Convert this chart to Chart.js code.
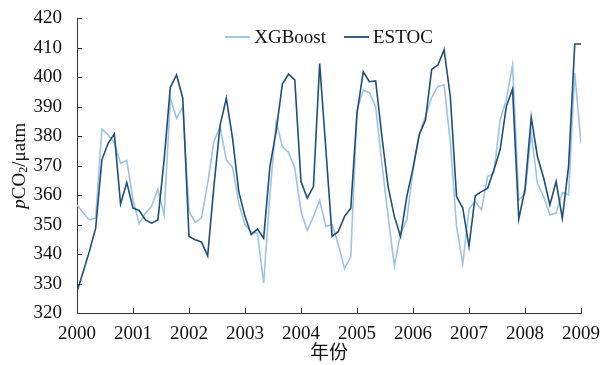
<!DOCTYPE html>
<html>
<head>
<meta charset="utf-8">
<script src="https://cdn.jsdelivr.net/npm/chart.js@4.4.0/dist/chart.umd.min.js"></script>
<style>
    html, body { margin: 0; padding: 0; background: #fff; }
    #wrap { width: 613px; height: 365px; }
</style>
</head>
<body>
<div id="wrap"><canvas id="co2Chart"></canvas></div>
<script>
"use strict";

// Årsetiketter på x-axeln
const yearTicks = [2000, 2001, 2002, 2003, 2004, 2005, 2006, 2007, 2008, 2009];
// Antal mätpunkter per år
const samplesPerYear = 9;

// pCO2 (μatm), XGBoost-modell
const xgboost = [
    356.7, 354.0, 351.6, 352.2, 382.4, 380.5, 377.8, 370.8, 371.8, 358.4,
    350.3, 353.9, 356.2, 362.0, 353.3, 392.9, 386.1, 390.0, 354.5, 350.8,
    352.2, 364.0, 378.2, 383.3, 372.0, 369.5, 357.3, 350.0, 347.5, 347.1,
    330.2, 360.0, 385.0, 376.5, 374.5, 369.2, 354.5, 348.0, 352.8, 358.2,
    349.4, 350.0, 343.2, 335.0, 339.2, 388.9, 395.7, 394.8, 390.0, 370.8,
    352.8, 336.0, 347.1, 351.6, 368.6, 380.5, 386.7, 393.2, 397.0, 397.4,
    378.0, 349.4, 336.7, 355.3, 357.9, 355.0, 366.3, 367.5, 385.5, 392.3,
    404.2, 358.4, 360.4, 381.0, 364.0, 359.5, 353.3, 353.9, 360.9, 360.1,
    401.4, 377.6
];

// pCO2 (μatm), ESTOC-mätningar
const estoc = [
    327.3, 334.0, 341.0, 348.8, 372.0, 377.6, 380.8, 357.0, 364.3, 355.6,
    354.8, 351.6, 350.5, 351.6, 372.0, 396.6, 400.8, 392.9, 346.0, 344.9,
    344.1, 339.4, 362.9, 383.8, 392.9, 379.3, 361.2, 352.8, 346.6, 348.5,
    345.4, 369.7, 381.6, 397.7, 401.1, 399.1, 364.6, 359.0, 362.9, 404.7,
    375.4, 346.0, 347.7, 352.8, 355.6, 387.8, 401.9, 398.5, 398.8, 379.9,
    362.9, 352.8, 346.0, 359.5, 369.2, 380.5, 385.5, 402.7, 404.2, 409.3,
    393.4, 359.5, 355.6, 342.6, 359.8, 361.2, 362.4, 368.6, 375.4, 390.1,
    396.0, 351.9, 362.0, 386.4, 373.1, 365.8, 356.7, 364.6, 352.2, 369.7,
    411.3, 411.3
];

const serif = "'Liberation Serif', 'Times New Roman', 'Noto Sans CJK SC', serif";
const axisColor = '#3a3433';

// Gör om till {x, y}-punkter, x i år
function toPoints(values) {
    return values.map((v, i) => ({ x: yearTicks[0] + i / samplesPerYear, y: v }));
}

// Skalstreck som pekar in i diagrammet
const innerTicks = {
    id: 'innerTicks',
    afterDraw(chart) {
        const { ctx, chartArea, scales } = chart;
        ctx.save();
        ctx.strokeStyle = axisColor;
        ctx.lineWidth = 1;
        scales.x.ticks.forEach((t) => {
            const px = Math.round(scales.x.getPixelForValue(t.value)) + 0.5;
            ctx.beginPath();
            ctx.moveTo(px, chartArea.bottom);
            ctx.lineTo(px, chartArea.bottom - 5);
            ctx.stroke();
        });
        scales.y.ticks.forEach((t) => {
            const py = Math.round(scales.y.getPixelForValue(t.value)) + 0.5;
            ctx.beginPath();
            ctx.moveTo(chartArea.left, py);
            ctx.lineTo(chartArea.left + 5, py);
            ctx.stroke();
        });
        ctx.restore();
    }
};

// Förklaring inne i diagrammet, överst i mitten
const innerLegend = {
    id: 'innerLegend',
    afterDraw(chart) {
        const { ctx, chartArea } = chart;
        const lineW = 25, gap = 4, itemGap = 18, y = 37;
        ctx.save();
        ctx.font = '19px ' + serif;
        const items = chart.data.datasets.map((ds) => ({
            label: ds.label,
            color: ds.borderColor,
            w: ctx.measureText(ds.label).width
        }));
        let total = 0;
        items.forEach((it) => { total += lineW + gap + it.w; });
        total += itemGap * (items.length - 1);
        let x = (chartArea.left + chartArea.right) / 2 - total / 2;
        ctx.textBaseline = 'middle';
        items.forEach((it) => {
            ctx.strokeStyle = it.color;
            ctx.lineWidth = 1.8;
            ctx.beginPath();
            ctx.moveTo(x, y);
            ctx.lineTo(x + lineW, y);
            ctx.stroke();
            ctx.fillStyle = '#111';
            ctx.fillText(it.label, x + lineW + gap, y + 1);
            x += lineW + gap + it.w + itemGap;
        });
        ctx.restore();
    }
};

// Y-axelns titel med kursivt p och nedsänkt 2
const yTitle = {
    id: 'yTitle',
    afterDraw(chart) {
        const { ctx, chartArea } = chart;
        const parts = [
            { text: 'p', font: 'italic 19px ' + serif, dy: 0 },
            { text: 'CO', font: '19px ' + serif, dy: 0 },
            { text: '2', font: '12px ' + serif, dy: 4 },
            { text: '/μatm', font: '19px ' + serif, dy: 0 }
        ];
        let total = 0;
        parts.forEach((p) => {
            ctx.font = p.font;
            p.w = ctx.measureText(p.text).width;
            total += p.w;
        });
        ctx.save();
        ctx.translate(20, (chartArea.top + chartArea.bottom) / 2);
        ctx.rotate(-Math.PI / 2);
        ctx.fillStyle = '#111';
        ctx.textBaseline = 'middle';
        let x = -total / 2;
        parts.forEach((p) => {
            ctx.font = p.font;
            ctx.fillText(p.text, x, p.dy);
            x += p.w;
        });
        ctx.restore();
    }
};

const ctx = document.getElementById('co2Chart');

new Chart(ctx, {
    type: 'line',
    data: {
        datasets: [{
            label: 'XGBoost',
            data: toPoints(xgboost),
            borderColor: '#9dc3e6',
            borderWidth: 1.6,
            order: 1
        }, {
            label: 'ESTOC',
            data: toPoints(estoc),
            borderColor: '#1f4e79',
            borderWidth: 1.6,
            order: 0
        }]
    },
    options: {
        responsive: true,
        maintainAspectRatio: false,
        animation: false,
        elements: {
            point: { radius: 0 },
            line: { tension: 0 }
        },
        layout: {
            padding: { top: 18, right: 32, left: 0, bottom: 0 }
        },
        plugins: {
            tooltip: { enabled: false },
            legend: { display: false }
        },
        scales: {
            x: {
                type: 'linear',
                min: 2000,
                max: 2009,
                grid: { display: false },
                border: { display: true, color: axisColor, width: 1 },
                ticks: {
                    stepSize: 1,
                    padding: 2,
                    color: '#111',
                    font: { family: serif, size: 19 },
                    callback: (v) => String(v)
                },
                title: {
                    display: true,
                    text: '年份',
                    color: '#111',
                    font: { family: serif, size: 19 },
                    padding: { top: 0, bottom: 0 }
                },
                afterFit: (scale) => { scale.height = 52; }
            },
            y: {
                min: 320,
                max: 420,
                grid: { display: false },
                border: { display: true, color: axisColor, width: 1 },
                ticks: {
                    stepSize: 10,
                    padding: 7,
                    color: '#111',
                    font: { family: serif, size: 19 }
                },
                afterFit: (scale) => { scale.width = 77; }
            }
        }
    },
    plugins: [innerTicks, innerLegend, yTitle]
});
</script>
</body>
</html>
